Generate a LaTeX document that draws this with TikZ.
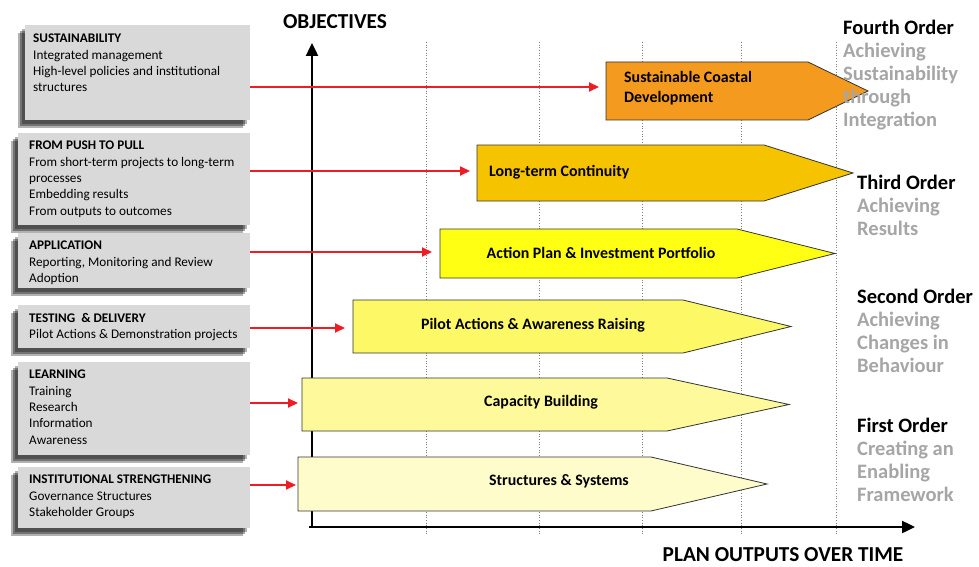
\documentclass[tikz,border=0pt]{standalone}
\usepackage{fontspec}
\setmainfont{Carlito}
\usetikzlibrary{arrows.meta,shadows,positioning}

\definecolor{sustorange}{HTML}{F39A1F}
\definecolor{contgold}{HTML}{F6C300}
\definecolor{actyellow}{HTML}{FFFF14}
\definecolor{pilotyellow}{HTML}{FDF865}
\definecolor{capyellow}{HTML}{FEFA9C}
\definecolor{structyellow}{HTML}{FFFCCB}
\definecolor{panelgrey}{HTML}{D9D9D9}
\definecolor{feedred}{HTML}{EE1C24}
\definecolor{ordergrey}{HTML}{A6A6A6}

\tikzset{
  panel/.style={fill=panelgrey, anchor=north west, inner sep=0pt, minimum width=232pt,
    drop shadow={shadow xshift=-3pt, shadow yshift=-4pt, fill=black, opacity=.3},
    drop shadow={shadow xshift=-5pt, shadow yshift=-6pt, fill=black, opacity=.35},
    drop shadow={shadow xshift=-7pt, shadow yshift=-8pt, fill=black, opacity=.3}},
  paneltext/.style={anchor=north west, inner sep=0pt, align=left,
    font=\fontsize{13.2}{16.3}\selectfont},
  stage/.style={draw=black!80, line width=.8pt},
  stagetext/.style={inner sep=0pt, align=left, font=\bfseries\fontsize{15.9}{20}\selectfont},
  order/.style={anchor=north west, inner sep=0pt, align=left, text=ordergrey,
    font=\bfseries\fontsize{20.5}{23}\selectfont},
  feed/.style={draw=feedred, line width=2pt, -{Triangle[length=10pt,width=9pt]}},
  axis/.style={line width=2.4pt, -{Triangle[length=13pt,width=12pt]}},
  grid/.style={gray, dotted, line width=.7pt},
  title/.style={inner sep=0pt, font=\bfseries\fontsize{21.3}{24}\selectfont},
}

\begin{document}
\begin{tikzpicture}[x=1pt, y=-1pt]

\useasboundingbox[fill=white] (0,0) rectangle (979,567);

%% time grid
\draw[grid] (426,42) -- (426,534);
\draw[grid] (539,42) -- (539,534);
\draw[grid] (642,42) -- (642,534);
\draw[grid] (741,42) -- (741,534);
\draw[grid] (836,42) -- (836,534);

%% axes
\coordinate (origin) at (312,527);
\coordinate (ytop) at (312,43);
\coordinate (xend) at (915,527);
\draw[axis] ([xshift=-3pt]origin) -- (xend);
\draw[axis] ([yshift=1pt]origin) -- (ytop);
\node[title] (objectives) at (335,22) {OBJECTIVES};
\node[title] (outputs) at (783,555) {PLAN OUTPUTS OVER TIME};

%% stages
\draw[stage, fill=sustorange] (606,62) -- (808,62) -- (868,91) -- (808,120) -- (606,120) -- cycle;
\node[stagetext, anchor=west] (scd) at (624,88) {Sustainable Coastal\\Development};
\coordinate (scd in) at (606,87);

\draw[stage, fill=contgold] (477,145) -- (764,145) -- (853,173) -- (764,201) -- (477,201) -- cycle;
\node[stagetext, anchor=west] (ltc) at (489,172) {Long-term Continuity};
\coordinate (ltc in) at (477,171);

\draw[stage, fill=actyellow] (440,229) -- (737,229) -- (835,253.5) -- (737,278) -- (440,278) -- cycle;
\node[stagetext] (apip) at (601,253) {Action Plan \& Investment Portfolio};
\coordinate (apip in) at (440,252);

\draw[stage, fill=pilotyellow] (353,300) -- (683,300) -- (791,326.5) -- (683,353) -- (353,353) -- cycle;
\node[stagetext] (paar) at (533,325) {Pilot Actions \& Awareness Raising};
\coordinate (paar in) at (353,328);

\draw[stage, fill=capyellow] (302,378) -- (667,378) -- (789,404.5) -- (667,431) -- (302,431) -- cycle;
\node[stagetext] (capb) at (541,402) {Capacity Building};
\coordinate (capb in) at (302,403);

\draw[stage, fill=structyellow] (298,457) -- (651,457) -- (767,484) -- (651,511) -- (298,511) -- cycle;
\node[stagetext] (strs) at (559,481) {Structures \& Systems};
\coordinate (strs in) at (298,485);

%% objective panels
\node[panel, minimum width=225pt, minimum height=95pt] (sus) at (25,25) {};
\node[paneltext] (sus txt) at ([shift={(8,9)}]sus.north west)
  {\textbf{SUSTAINABILITY}\\Integrated management\\High-level policies and institutional\\structures};

\node[panel, minimum height=92pt] (push) at (18,133) {};
\node[paneltext] (push txt) at ([shift={(11,8)}]push.north west)
  {\textbf{FROM PUSH TO PULL}\\From short-term projects to long-term\\processes\\Embedding results\\From outputs to outcomes};

\node[panel, minimum height=55pt] (app) at (18,233) {};
\node[paneltext] (app txt) at ([shift={(11,8)}]app.north west)
  {\textbf{APPLICATION}\\Reporting, Monitoring and Review\\Adoption};

\node[panel, minimum height=43pt] (test) at (18,305) {};
\node[paneltext] (test txt) at ([shift={(11,8)}]test.north west)
  {\textbf{TESTING\ \ \& DELIVERY}\\Pilot Actions \& Demonstration projects};

\node[panel, minimum height=93pt] (learn) at (18,362) {};
\node[paneltext] (learn txt) at ([shift={(11,8)}]learn.north west)
  {\textbf{LEARNING}\\Training\\Research\\Information\\Awareness};

\node[panel, minimum height=61pt] (inst) at (18,467) {};
\node[paneltext] (inst txt) at ([shift={(11,8)}]inst.north west)
  {\textbf{INSTITUTIONAL STRENGTHENING}\\Governance Structures\\Stakeholder Groups};

%% feeds
\draw[feed, shorten >=7pt] (sus.east |- scd in) -- (scd in);
\draw[feed, shorten >=7pt] (push.east |- ltc in) -- (ltc in);
\draw[feed, shorten >=8pt] (app.east |- apip in) -- (apip in);
\draw[feed, shorten >=8pt] (test.east |- paar in) -- (paar in);
\draw[feed, shorten >=4pt] (learn.east |- capb in) -- (capb in);
\draw[feed, shorten >=2pt] (inst.east |- strs in) -- (strs in);

%% orders
\node[order] (fourth) at (843,20) {\textcolor{black}{Fourth Order}\\Achieving\\Sustainability\\through\\Integration};
\node[order] (third) at (857,175) {\textcolor{black}{Third Order}\\Achieving\\Results};
\node[order] (second) at (857,289) {\textcolor{black}{Second Order}\\Achieving\\Changes in\\Behaviour};
\node[order] (first) at (857,418) {\textcolor{black}{First Order}\\Creating an\\Enabling\\Framework};

\end{tikzpicture}
\end{document}
